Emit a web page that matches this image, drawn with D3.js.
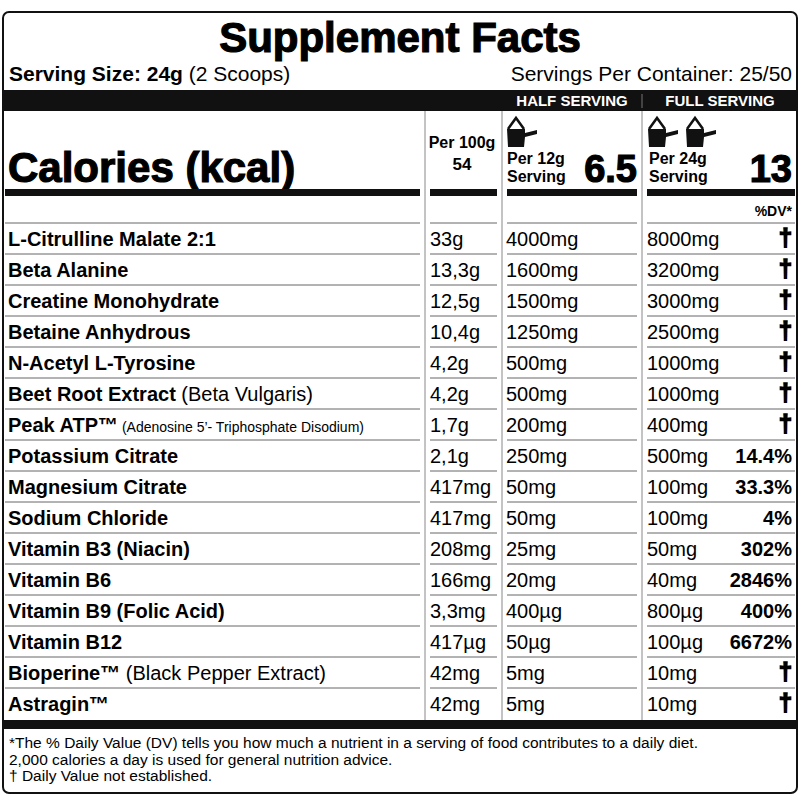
<!DOCTYPE html>
<html><head><meta charset="utf-8">
<script src="https://cdn.jsdelivr.net/npm/d3@7"></script>
<style>body{margin:0;background:#fff}svg text{font-family:"Liberation Sans Narrow","Liberation Sans",Arial,sans-serif}</style>
</head><body><svg width="800" height="800"></svg>
<script>
const names = ["L-Citrulline Malate 2:1","Beta Alanine","Creatine Monohydrate","Betaine Anhydrous","N-Acetyl L-Tyrosine","Beet Root Extract","Peak ATP™","Potassium Citrate","Magnesium Citrate","Sodium Chloride","Vitamin B3 (Niacin)","Vitamin B6","Vitamin B9 (Folic Acid)","Vitamin B12","Bioperine™","Astragin™"];
const subs = ["","","","","", " (Beta Vulgaris)"," (Adenosine 5’- Triphosphate Disodium)","","","","","","",""," (Black Pepper Extract)",""];
const per100 = ["33g","13,3g","12,5g","10,4g","4,2g","4,2g","1,7g","2,1g","417mg","417mg","208mg","166mg","3,3mg","417µg","42mg","42mg"];
const half = ["4000mg","1600mg","1500mg","1250mg","500mg","500mg","200mg","250mg","50mg","50mg","25mg","20mg","400µg","50µg","5mg","5mg"];
const full = ["8000mg","3200mg","3000mg","2500mg","1000mg","1000mg","400mg","500mg","100mg","100mg","50mg","40mg","800µg","100µg","10mg","10mg"];
const dv = ["†","†","†","†","†","†","†","14.4%","33.3%","4%","302%","2846%","400%","6672%","†","†"];
const footnotes = ["*The % Daily Value (DV) tells you how much a nutrient in a serving of food contributes to a daily diet.","2,000 calories a day is used for general nutrition advice.","† Daily Value not established."];

const svg = d3.select("svg");
const y = d3.scaleBand().domain(d3.range(names.length)).range([223, 719]);
const cols = [[5,420],[430,497],[507,637],[647,795]];

svg.append("rect").attr("x",3).attr("y",12).attr("width",794).attr("height",781).attr("rx",6)
  .attr("fill","#fff").attr("stroke","#111").attr("stroke-width",2);

svg.append("text").attr("x",400).attr("y",52).attr("text-anchor","middle")
  .attr("font-size",42).attr("font-weight",900).attr("stroke","#000").attr("stroke-width",1.2)
  .style("font-family","'Liberation Sans',Arial").text("Supplement Facts");
const ss = svg.append("text").attr("x",9).attr("y",81).attr("font-size",21).style("font-family","'Liberation Sans',Arial");
ss.append("tspan").attr("font-weight","bold").text("Serving Size: 24g ");
ss.append("tspan").text("(2 Scoops)");
svg.append("text").attr("x",792).attr("y",81).attr("text-anchor","end").attr("font-size",21)
  .style("font-family","'Liberation Sans',Arial").text("Servings Per Container: 25/50");

svg.append("rect").attr("x",4).attr("y",90).attr("width",792).attr("height",21).attr("fill","#111");
svg.append("text").attr("x",572).attr("y",106).attr("text-anchor","middle").attr("fill","#fff").attr("font-size",15).attr("font-weight","bold").text("HALF SERVING");
svg.append("text").attr("x",720).attr("y",106).attr("text-anchor","middle").attr("fill","#fff").attr("font-size",15).attr("font-weight","bold").text("FULL SERVING");
svg.append("line").attr("x1",642).attr("x2",642).attr("y1",94).attr("y2",108).attr("stroke","#777");

// column separators
[425,502,642].forEach(x => svg.append("line").attr("x1",x).attr("x2",x).attr("y1",111).attr("y2",723).attr("stroke","#888").attr("stroke-width",1));

svg.append("text").attr("x",8).attr("y",182).attr("font-size",42).attr("font-weight",900).attr("stroke","#000").attr("stroke-width",1.2)
  .style("font-family","'Liberation Sans',Arial").text("Calories (kcal)");
svg.append("text").attr("x",462).attr("y",148).attr("text-anchor","middle").attr("font-size",16).attr("font-weight","bold").text("Per 100g");
svg.append("text").attr("x",462).attr("y",170).attr("text-anchor","middle").attr("font-size",17).attr("font-weight","bold").text("54");
svg.append("text").attr("x",507).attr("y",164).attr("font-size",16).attr("font-weight","bold").text("Per 12g");
svg.append("text").attr("x",507).attr("y",182).attr("font-size",16).attr("font-weight","bold").text("Serving");
svg.append("text").attr("x",637).attr("y",182).attr("text-anchor","end").attr("font-size",38).attr("font-weight",900).attr("stroke","#000").attr("stroke-width",1.2).style("font-family","'Liberation Sans',Arial").text("6.5");
svg.append("text").attr("x",649).attr("y",164).attr("font-size",16).attr("font-weight","bold").text("Per 24g");
svg.append("text").attr("x",649).attr("y",182).attr("font-size",16).attr("font-weight","bold").text("Serving");
svg.append("text").attr("x",792).attr("y",182).attr("text-anchor","end").attr("font-size",38).attr("font-weight",900).attr("stroke","#000").attr("stroke-width",1.2).style("font-family","'Liberation Sans',Arial").text("13");

function scoop(x){
  const g = svg.append("g").attr("transform",`translate(${x},117)`);
  g.append("path").attr("d","M1,12 L9,1 L17,12").attr("fill","none").attr("stroke","#111").attr("stroke-width",2.5);
  g.append("path").attr("d","M0,12 L18,12 L18,16 L30,13 L30,17 L18,20 L17,30 L1,30 Z").attr("fill","#111");
}
scoop(507); scoop(648); scoop(686);

cols.forEach(c => svg.append("rect").attr("x",c[0]).attr("y",189).attr("width",c[1]-c[0]).attr("height",7).attr("fill","#111"));
svg.append("text").attr("x",792).attr("y",216).attr("text-anchor","end").attr("font-size",14).attr("font-weight","bold").text("%DV*");

const sep = [223].concat(names.map((d,i)=>y(i)+y.bandwidth())).slice(0,-1);
sep.forEach(v => cols.forEach(c => svg.append("line").attr("x1",c[0]).attr("x2",c[1]).attr("y1",v).attr("y2",v).attr("stroke","#666").attr("stroke-width",1)));

const rows = svg.selectAll("g.row").data(names).join("g").attr("class","row")
  .attr("transform",(d,i)=>`translate(0,${y(i)+y.bandwidth()/2+7})`);
rows.each(function(d,i){
  const g = d3.select(this);
  const t = g.append("text").attr("x",8).attr("font-size",20);
  t.append("tspan").attr("font-weight","bold").text(d);
  if (subs[i]) t.append("tspan").attr("font-size", i===6?14:20).text(subs[i]);
  g.append("text").attr("x",430).attr("font-size",20).text(per100[i]);
  g.append("text").attr("x",506).attr("font-size",20).text(half[i]);
  g.append("text").attr("x",647).attr("font-size",20).text(full[i]);
  g.append("text").attr("x",792).attr("text-anchor","end").attr("font-size",dv[i]==="†"?24:20).attr("font-weight","bold")
    .attr("stroke",dv[i]==="†"?"#000":null).attr("stroke-width",1.5).text(dv[i]);
});

svg.append("rect").attr("x",4).attr("y",720).attr("width",792).attr("height",9).attr("fill","#111");
footnotes.forEach((f,i)=>svg.append("text").attr("x",9).attr("y",748+i*16.5).attr("font-size",15.5).text(f));
</script></body></html>
